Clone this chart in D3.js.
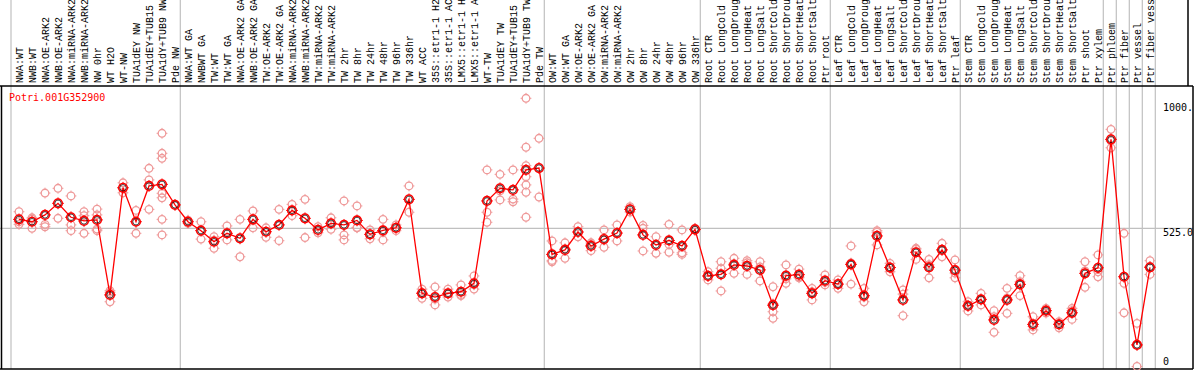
<!DOCTYPE html>
<html><head><meta charset="utf-8">
<script src="https://cdn.jsdelivr.net/npm/d3@7"></script>
<style>
html,body{margin:0;padding:0;background:#fff;}
svg{display:block;}
</style></head>
<body>
<svg id="chart" width="1194" height="370"></svg>
<script>
const geneLabel = "Potri.001G352900";
const categories = [
"NWA:WT","NWB:WT","NWA:OE-ARK2","NWB:OE-ARK2","NWA:miRNA-ARK2","NWB:miRNA-ARK2","NW 0hr","WT H2O","WT-NW","TUA1dEY NW","TUA1dEY+TUB15","TUA1dY+TUB9 NW","Pde NW",
"NWA:WT GA","NWBWT GA","TW:WT","TW:WT GA","NWA:OE-ARK2 GA","NWB:OE-ARK2 GA","TW:OE-ARK2","TW:OE-ARK2 GA","NWA:miRNA-ARK2","NWB:miRNA-ARK2","TW:miRNA-ARK2","TW:miRNA-ARK2","TW 2hr","TW 8hr","TW 24hr","TW 48hr","TW 96hr","TW 336hr","WT ACC","35S::etr1-1 H2","35S::etr1-1 AC","LMX5::etr1-1 H","LMX5::etr1-1 A","WT-TW","TUA1dEY TW","TUA1dEY+TUB15","TUA1dY+TUB9 TW","Pde TW",
"OW:WT","OW:WT GA","OW:OE-ARK2","OW:OE-ARK2 GA","OW:miRNA-ARK2","OW:miRNA-ARK2","OW 2hr","OW 8hr","OW 24hr","OW 48hr","OW 96hr","OW 336hr",
"Root CTR","Root LongCold","Root LongDroug","Root LongHeat","Root LongSalt","Root ShortCold","Root ShortDrou","Root ShortHeat","Root ShortSalt","Ptr root",
"Leaf CTR","Leaf LongCold","Leaf LongDroug","Leaf LongHeat","Leaf LongSalt","Leaf ShortCold","Leaf ShortDrou","Leaf ShortHeat","Leaf ShortSalt","Ptr leaf",
"Stem CTR","Stem LongCold","Stem LongDroug","Stem LongHeat","Stem LongSalt","Stem ShortCold","Stem ShortDrou","Stem ShortHeat","Stem ShortSalt","Ptr shoot","Ptr xylem",
"Ptr phloem","Ptr fiber","Ptr vessel","Ptr fiber vess"
];
const means = [
559,550,576,620,567,553,557,272,679,550,686,692,614,
550,516,474,506,487,559,512,538,593,563,519,544,538,555,502,517,527,635,278,264,278,284,316,629,677,671,747,754,
426,443,511,458,484,507,597,500,462,479,458,521,
344,350,386,382,367,233,345,349,278,326,
313,388,269,496,376,253,434,377,443,366,
230,255,177,253,312,160,212,160,204,354,375,
863,341,82,377
];
const replicates = [
[588,550,540],[565,560,525],[659,540,531],[677,563],[648,538,516],[588,573,506],[598,576,522,516],[288,282,246],[698,660],[593,506],[753,709,597],[886,810,791,658,641,559,500],[614],
[556,544],[550,484],[493,480,449],[534,481],[559,417],[591,527],[527,491],[597,478],[616,573],[635,490],[531,508],[565,521],[629,500,481],[610,528,527],[519,485],[559,481,511],[538,516],[686,586],[294,281,259],[302,256,234],[294,276,264],[310,273,269],[344,310,294],[747,586,548],[730,667,633],[747,636,626],[1019,833,763,721,690,662,567],[867,644],
[477,403,398],[470,448,411],[531,493],[470,465,440],[519,480,453],[538,477],[607,587],[525,536,439],[493,430],[540,464,434],[519,432,426],[525,517],
[360,343,329],[398,373,287],[411,392,354],[402,394,350],[398,378,325],[303,238,208,183],[386,333,316],[370,340,337],[297,284,253],[348,320,310],
[329,313,297],[458,393,313],[297,264,246],[516,510,462],[392,376,360],[291,275,193],[449,446,407],[407,387,337],[468,444,417],[405,355,337],
[246,233,211],[278,253,234],[212,189,130],[297,260,202],[345,322,269],[189,152,139],[221,212,203],[170,163,147],[221,212,179],[398,363,301],[424,360,341],
[901,857,831],[506,316,204],[164,82,0],[402,379,350]
];
const groupEnds = [12,40,52,62,72,83,84,85,86,87];
const yTicks = [1000,525,0];
const yTickLabels = ["1000.","525.0","0"];
const refLine = 525;

const svg = d3.select("#chart");
const x = d3.scaleBand().domain(d3.range(categories.length)).range([12.5, 12.5 + categories.length*13]).paddingInner(0).paddingOuter(0);
const cx = i => x(i) + x.bandwidth()/2;
const y = d3.scaleLinear().domain([0,1000]).range([366.5,103.3]);

const plotTop = 86, plotBottom = 369, headerRight = 1188, plotRight = 1193;

// grey vertical separators
const sepX = [x(0) - 1.5].concat(groupEnds.map(i => x(i) + x.bandwidth() - 1.2));
svg.selectAll("line.sep").data(sepX).enter().append("line")
  .attr("x1", d => d).attr("x2", d => d).attr("y1", 0).attr("y2", plotBottom)
  .attr("stroke", "#c0c0c0").attr("stroke-width", 1.2);

// horizontal reference line
svg.append("line").attr("x1", 0).attr("x2", plotRight).attr("y1", y(refLine)).attr("y2", y(refLine))
  .attr("stroke", "#c0c0c0").attr("stroke-width", 1.2);

// borders
svg.append("line").attr("x1",0).attr("x2",plotRight).attr("y1",plotTop).attr("y2",plotTop).attr("stroke","#000").attr("stroke-width",1.5);
svg.append("line").attr("x1",0).attr("x2",plotRight).attr("y1",plotBottom).attr("y2",plotBottom).attr("stroke","#000").attr("stroke-width",1.5);
svg.append("line").attr("x1",1.5).attr("x2",1.5).attr("y1",plotTop).attr("y2",plotBottom).attr("stroke","#000").attr("stroke-width",1.5);
svg.append("line").attr("x1",headerRight).attr("x2",headerRight).attr("y1",0).attr("y2",plotTop).attr("stroke","#000").attr("stroke-width",1.5);
svg.append("line").attr("x1",plotRight).attr("x2",plotRight).attr("y1",plotTop).attr("y2",plotBottom).attr("stroke","#000").attr("stroke-width",1.5);

// header labels
svg.selectAll("text.cat").data(categories).enter().append("text")
  .attr("class","cat")
  .attr("transform", (d,i) => `translate(${cx(i)},83) rotate(-90)`)
  .attr("dy","0.36em")
  .attr("font-family","'Liberation Mono', 'DejaVu Sans Mono', monospace")
  .attr("font-size","10px")
  .attr("fill","#000")
  .text(d => d);

// gene label
svg.append("text").attr("x",9).attr("y",101)
  .attr("font-family","'DejaVu Sans Mono', monospace").attr("font-size","10px")
  .attr("fill","#ff0000").text(geneLabel);

// y axis labels (right)
svg.selectAll("text.ytick").data(yTicks).enter().append("text")
  .attr("x", 1163)
  .attr("y", (d,i) => d === 0 ? y(d) - 1.5 : y(d) + 8)
  .attr("font-family","'DejaVu Sans Mono', monospace").attr("font-size","10px")
  .attr("fill","#000").text((d,i) => yTickLabels[i]);

// marker helper
function marker(g, px, py, r, color, sw) {
  g.append("circle").attr("cx",px).attr("cy",py).attr("r",r).attr("fill","none").attr("stroke",color).attr("stroke-width",sw);
  const t = r + 1.6;
  [[0,-1],[0,1],[-1,0],[1,0]].forEach(([dx,dy]) => {
    g.append("line").attr("x1",px+dx*(r)).attr("y1",py+dy*(r)).attr("x2",px+dx*t).attr("y2",py+dy*t)
      .attr("stroke",color).attr("stroke-width",1);
  });
}

// replicates
const repG = svg.append("g");
replicates.forEach((reps,i) => reps.forEach(v => marker(repG, cx(i), y(v), 3.8, "#ef9a9a", 1.3)));

// mean line
const line = d3.line().x((d,i) => cx(i)).y(d => y(d));
svg.append("path").datum(means).attr("d", line).attr("fill","none").attr("stroke","#ff0000").attr("stroke-width",1.3);

// mean markers
const meanG = svg.append("g");
means.forEach((v,i) => {
  marker(meanG, cx(i), y(v), 4.3, "#ff0000", 1.6);
  meanG.append("circle").attr("cx",cx(i)).attr("cy",y(v)).attr("r",3.2).attr("fill","none").attr("stroke","#000").attr("stroke-width",0.7);
});
</script>
</body></html>
